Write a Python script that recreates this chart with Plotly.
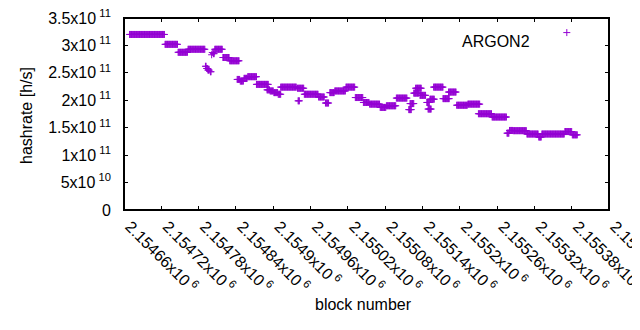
import plotly.graph_objects as go

# ---- data ----
base_block = 2154660
# constant-hashrate runs: block offsets (from base_block) and hashrate in units of 1e11 h/s
run_start = [9, 66, 87, 103, 131, 133, 135, 139, 141, 142, 144, 146, 159, 170, 182, 187, 193, 199,
             213, 230, 235, 241, 248, 252, 280, 279, 290, 313, 324, 331, 339, 357, 372, 385, 395,
             412, 422, 438, 458, 460, 466, 469, 476, 487, 489, 492, 498, 513, 522, 535, 553, 570,
             592, 616, 620, 626, 648, 667, 672, 709, 721]
run_end = [65, 86, 102, 130, 132, 134, 137, 140, 141, 142, 145, 158, 169, 185, 186, 192, 198, 213,
           232, 234, 240, 247, 252, 277, 282, 289, 312, 322, 329, 338, 356, 371, 384, 394, 411,
           421, 437, 455, 462, 466, 474, 478, 485, 491, 494, 499, 513, 523, 534, 552, 572, 591,
           615, 619, 625, 647, 666, 671, 708, 720, 729]
run_value = [3.20, 3.02, 2.875, 2.93, 2.62, 2.58, 2.55, 2.52, 2.83, 2.87, 2.85, 2.93, 2.78, 2.72,
             2.38, 2.35, 2.40, 2.43, 2.29, 2.19, 2.17, 2.14, 2.11, 2.24, 1.99, 2.22, 2.11, 2.06,
             1.95, 2.14, 2.17, 2.24, 2.05, 1.96, 1.93, 1.87, 1.90, 2.04, 1.83, 1.94, 2.13, 2.22,
             2.09, 1.96, 1.84, 2.02, 2.24, 2.03, 2.15, 1.91, 1.93, 1.755, 1.695, 1.40, 1.45, 1.446,
             1.385, 1.33, 1.385, 1.43, 1.37]

x_range = [2154660, 2155440]
y_range = [0, 3.5e11]
x_tick_vals = [2154660 + 60 * i for i in range(14)]
x_tick_text = ["2.15466", "2.15472", "2.15478", "2.15484", "2.1549", "2.15496", "2.15502",
               "2.15508", "2.15514", "2.1552", "2.15526", "2.15532", "2.15538", "2.15544"]
y_tick_vals = [0, 5e10, 1e11, 1.5e11, 2e11, 2.5e11, 3e11, 3.5e11]
y_tick_text = ["0", "5x10<sup> 10</sup>", "1x10<sup> 11</sup>", "1.5x10<sup> 11</sup>",
               "2x10<sup> 11</sup>", "2.5x10<sup> 11</sup>", "3x10<sup> 11</sup>",
               "3.5x10<sup> 11</sup>"]

# expand runs into one point per block
blocks, rates = [], []
for s, e, v in zip(run_start, run_end, run_value):
    for b in range(s, e + 1):
        blocks.append(base_block + b)
        rates.append(v * 1e11)

COLOR = "#9400D3"
FONT = "Liberation Sans"

fig = go.Figure()
# plot frame, drawn along the axis range as a line trace
fig.add_trace(go.Scatter(
    x=[x_range[0], x_range[1], x_range[1], x_range[0], x_range[0]],
    y=[y_range[0], y_range[0], y_range[1], y_range[1], y_range[0]],
    mode="lines", line=dict(color="black", width=2), hoverinfo="skip",
    showlegend=False, cliponaxis=False,
))
fig.add_trace(go.Scatter(
    x=blocks, y=rates, mode="markers", name="ARGON2",
    marker=dict(symbol="cross-thin", size=5, color=COLOR, line=dict(color=COLOR, width=1)),
    showlegend=False,
))

axis_common = dict(showline=True, linecolor="black", linewidth=1, mirror="ticks",
                   ticks="inside", ticklen=4, tickwidth=1,
                   tickcolor="black", showgrid=False, zeroline=False, automargin=False,
                   ticklabeloverflow="allow",
                   tickfont=dict(family=FONT, size=16, color="black"))

fig.update_xaxes(range=x_range, tickmode="array", tickvals=x_tick_vals,
                 ticktext=[t + "x10<sup> 6</sup>" for t in x_tick_text], tickangle=45,
                 ticklabelshift=6, **axis_common)
fig.update_yaxes(range=y_range, tickmode="array", tickvals=y_tick_vals,
                 ticktext=[t + "  " for t in y_tick_text], **axis_common)

fig.add_annotation(text="hashrate [h/s]", xref="paper", yref="paper", x=-0.2215, y=0.49,
                   textangle=-90, showarrow=False, font=dict(family=FONT, size=16, color="black"))
fig.add_annotation(text="block number", xref="paper", yref="paper", x=0.494, y=-0.547,
                   showarrow=False, font=dict(family=FONT, size=16, color="black"))
fig.add_annotation(text="ARGON2", xref="paper", yref="paper", x=0.8406, y=0.93,
                   xanchor="right", showarrow=False, font=dict(family=FONT, size=16, color="black"))
# legend sample symbol
cx, cy, dx, dy = 0.913, 0.924, 3.5 / 485, 3.5 / 192
fig.add_shape(type="path", xref="paper", yref="paper",
              path=f"M{cx - dx},{cy} L{cx + dx},{cy} M{cx},{cy - dy} L{cx},{cy + dy}",
              line=dict(color=COLOR, width=1))

# the page body adds an 8px offset, so margins are reduced by 8 on the top/left
fig.update_layout(width=640, height=330, margin=dict(l=116, r=39, t=10, b=128),
                  paper_bgcolor="white", plot_bgcolor="white",
                  font=dict(family=FONT, size=16, color="black"))

fig.write_html("out.html")
